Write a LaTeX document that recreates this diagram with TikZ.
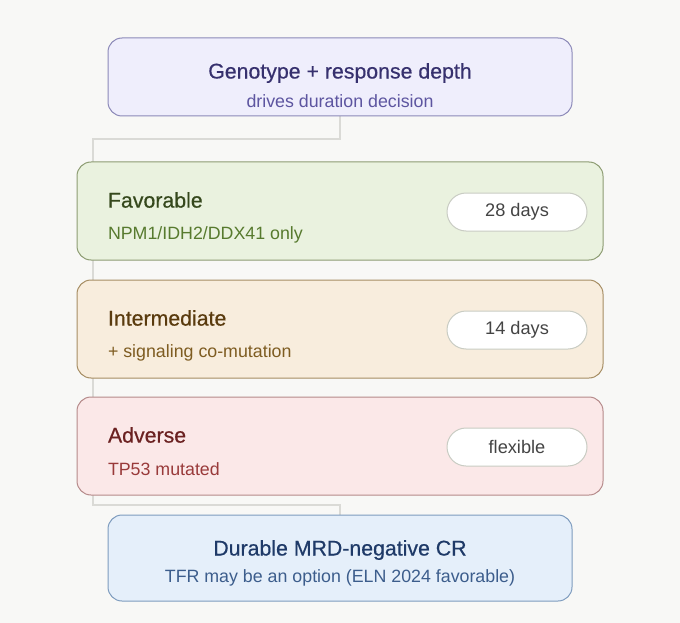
\documentclass[tikz,border=0pt]{standalone}
\usepackage{fontspec}
\setmainfont{Liberation Sans}
\newfontfamily\titlefont[FakeBold=0.5]{Liberation Sans}
\usetikzlibrary{backgrounds}
\definecolor{bgcol}{HTML}{F8F8F6}
\definecolor{linkcol}{HTML}{DADAD6}
\definecolor{topfill}{HTML}{EFEEFC}\definecolor{topdraw}{HTML}{8C89B8}
\definecolor{toptext}{HTML}{36306E}\definecolor{topsub}{HTML}{5D55A0}
\definecolor{favfill}{HTML}{EAF2DF}\definecolor{favdraw}{HTML}{8D9C72}
\definecolor{favtext}{HTML}{35481C}\definecolor{favsub}{HTML}{577A2E}
\definecolor{intfill}{HTML}{F8EDDD}\definecolor{intdraw}{HTML}{A68D63}
\definecolor{inttext}{HTML}{5A3B0E}\definecolor{intsub}{HTML}{7E5C21}
\definecolor{advfill}{HTML}{FBE8E8}\definecolor{advdraw}{HTML}{B58A8A}
\definecolor{advtext}{HTML}{6B2121}\definecolor{advsub}{HTML}{993A3A}
\definecolor{botfill}{HTML}{E5EFFA}\definecolor{botdraw}{HTML}{7E9CBE}
\definecolor{bottext}{HTML}{1F3A68}\definecolor{botsub}{HTML}{3C5D8C}
\definecolor{pilldraw}{HTML}{C9CCC3}\definecolor{pilltext}{HTML}{444444}
\begin{document}
\begin{tikzpicture}[x=1pt, y=-1pt, line join=round, line cap=round]
				\tikzset{every node/.style={inner sep=0pt, outer sep=0pt},
					card/.style={draw=#1draw, fill=#1fill, line width=1pt, rounded corners=14pt, minimum width=526pt, minimum height=98pt},
					endcard/.style={draw=#1draw, fill=#1fill, line width=1pt, rounded corners=14pt, minimum width=464pt},
					head/.style={anchor=west, text=#1text, font=\titlefont\fontsize{21.3}{25}\selectfont},
					sub/.style={anchor=west, text=#1sub, font=\fontsize{17.8}{21}\selectfont},
					pill/.style={draw=pilldraw, fill=white, line width=1pt, rounded corners=19pt, minimum width=140pt, minimum height=38pt, text=pilltext, font=\fontsize{18.2}{22}\selectfont}}
				\useasboundingbox (0,0) rectangle (680,623);
				%Khung ngoai
				\node[endcard=top, minimum height=78pt] (top) at (340,77) {};
				\node[text=toptext, font=\titlefont\fontsize{21.3}{25}\selectfont] (toph) at (340,73) {Genotype + response depth};
				\node[text=topsub, font=\fontsize{17.8}{21}\selectfont] (tops) at (340,101) {drives duration decision};
				%Ba nhom
				\node[card=fav] (fav) at (340,211) {};
				\node[head=fav] (favh) at (108,200) {Favorable};
				\node[sub=fav] (favs) at (108,235) {NPM1/IDH2/DDX41 only};
				\node[pill] (favp) at (517,212) {28 days};
				\node[card=int] (int) at (340,329) {};
				\node[head=int] (inth) at (108,318) {Intermediate};
				\node[sub=int] (ints) at (108,353) {+ signaling co-mutation};
				\node[pill] (intp) at (517,330) {14 days};
				\node[card=adv] (adv) at (340,446) {};
				\node[head=adv] (advh) at (108,435) {Adverse};
				\node[sub=adv] (advs) at (108,469) {TP53 mutated};
				\node[pill] (advp) at (517,447) {flexible};
				%Ket qua
				\node[endcard=bot, minimum height=86pt] (bot) at (340,558) {};
				\node[text=bottext, font=\titlefont\fontsize{21.3}{25}\selectfont] (both) at (340,550) {Durable MRD-negative CR};
				\node[text=botsub, font=\fontsize{17.8}{21}\selectfont] (bots) at (340,578) {TFR may be an option (ELN 2024 favorable)};
				%Duong noi
				\coordinate (up) at (93,139);
				\coordinate (down) at (93,505);
				\begin{scope}[on background layer]
					\fill[bgcol] (0,0) rectangle (680,623);
					\draw[linkcol, line width=1.2pt, line cap=butt] (top.south) |- (up) -- (down) -| (bot.north);
				\end{scope}
			\end{tikzpicture}
\end{document}
